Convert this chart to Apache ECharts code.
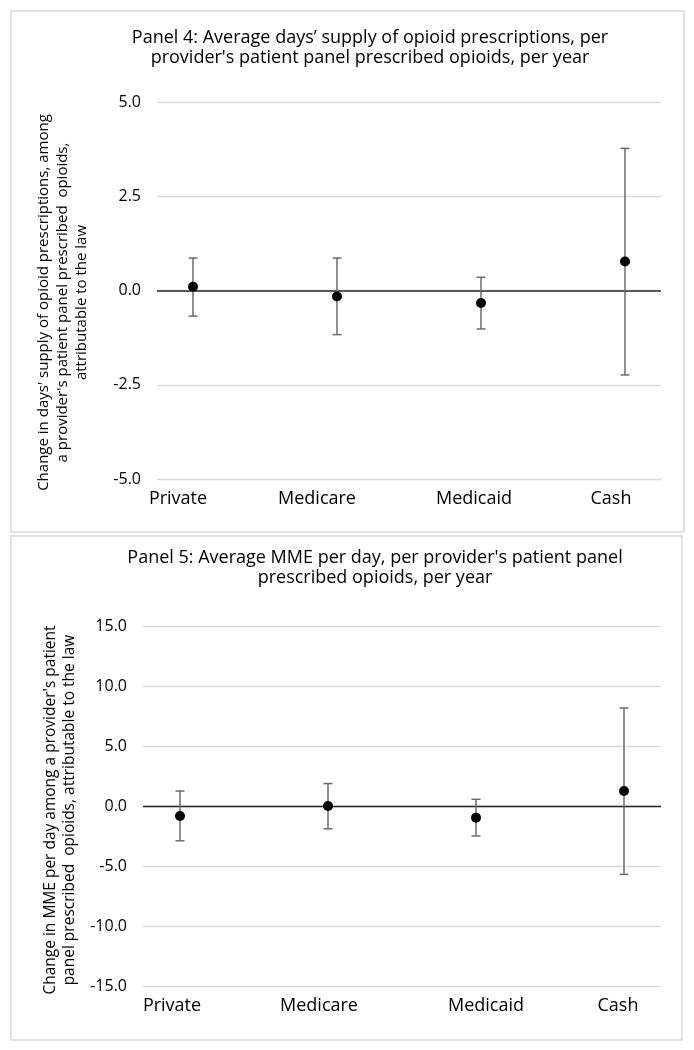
<!DOCTYPE html>
<html><head><meta charset="utf-8">
<script src="https://cdn.jsdelivr.net/npm/echarts@6/dist/echarts.min.js"></script>
<style>html,body{margin:0;padding:0;background:#fff}#c{width:694px;height:1050px}</style>
</head><body><div id="c"></div>
<script>
const categories = ['Private', 'Medicare', 'Medicaid', 'Cash'];
const xPositions = [1, 2, 3, 4];

const p4Title = 'Panel 4: Average days\u2019 supply of opioid prescriptions, per\nprovider\'s patient panel prescribed opioids, per year';
const p4YName = 'Change in days\' supply of opioid prescriptions, among\na provider\'s patient panel prescribed  opioids,\nattributable to the law';
const p4Estimate = [0.10, -0.16, -0.33, 0.77];
const p4Lower = [-0.68, -1.17, -1.02, -2.24];
const p4Upper = [0.86, 0.86, 0.35, 3.77];
const p4Ticks = [-5, -2.5, 0, 2.5, 5];

const p5Title = 'Panel 5: Average MME per day, per provider\'s patient panel\nprescribed opioids, per year';
const p5YName = 'Change in MME per day among a provider\'s patient\npanel prescribed  opioids, attributable to the law';
const p5Estimate = [-0.83, 0.00, -0.97, 1.25];
const p5Lower = [-2.90, -1.90, -2.50, -5.70];
const p5Upper = [1.25, 1.87, 0.56, 8.17];
const p5Ticks = [-15, -10, -5, 0, 5, 10, 15];

const FONT = 'Open Sans';
const TXT = '#000';

// per-label horizontal nudge (px) of the category labels, as in the reference
const p4LabelNudge = [-15, -20, -7, -14];
const p5LabelNudge = [-8, -9, 10, -6];

function errorBarItem(params, api) {
  const x = api.value(0), lo = api.value(1), hi = api.value(2);
  const a = api.coord([x, lo]), b = api.coord([x, hi]);
  const cap = 4.5;
  const style = { stroke: '#6b6b6b', lineWidth: 1.5 };
  return {
    type: 'group', children: [
      { type: 'line', shape: { x1: a[0], y1: a[1], x2: b[0], y2: b[1] }, style },
      { type: 'line', shape: { x1: a[0] - cap, y1: a[1], x2: a[0] + cap, y2: a[1] }, style },
      { type: 'line', shape: { x1: b[0] - cap, y1: b[1], x2: b[0] + cap, y2: b[1] }, style }
    ]
  };
}

function xAxisFor(gridIndex, nudge, pxPerUnit) {
  return {
    type: 'value', gridIndex, min: 0.75, max: 4.25,
    axisLine: { show: false }, axisTick: { show: false }, splitLine: { show: false },
    axisLabel: {
      customValues: xPositions.map((v, i) => v + nudge[i] / pxPerUnit),
      formatter: v => categories[Math.round(v) - 1],
      fontFamily: FONT, fontSize: 18, color: TXT, margin: 11
    }
  };
}

function yAxisFor(gridIndex, ticks, name, nameGap, namePad, nameSize) {
  return {
    type: 'value', gridIndex,
    min: ticks[0], max: ticks[ticks.length - 1], interval: ticks[1] - ticks[0],
    axisLine: { show: false }, axisTick: { show: false },
    splitLine: { lineStyle: { color: '#d9d9d9', width: 1.3 } },
    axisLabel: { formatter: v => v.toFixed(1), fontFamily: FONT, fontSize: 16, color: TXT, margin: 16 },
    name, nameLocation: 'middle', nameRotate: 90, nameGap,
    nameTextStyle: { fontFamily: FONT, fontSize: nameSize, color: TXT, lineHeight: 19, align: 'center', padding: namePad }
  };
}

function seriesFor(idx, est, lo, hi, zeroColor, zeroWidth) {
  return [
    {
      type: 'custom', xAxisIndex: idx, yAxisIndex: idx,
      renderItem: errorBarItem,
      encode: { x: 0, y: [1, 2] },
      data: xPositions.map((x, i) => [x, lo[i], hi[i]]),
      z: 3,
      markLine: {
        silent: true, symbol: 'none', label: { show: false },
        lineStyle: { color: zeroColor, width: zeroWidth, type: 'solid' },
        data: [{ yAxis: 0 }], z: 2
      }
    },
    {
      type: 'scatter', xAxisIndex: idx, yAxisIndex: idx,
      symbolSize: 10, itemStyle: { color: '#000', opacity: 1 },
      data: xPositions.map((x, i) => [x, est[i]]),
      z: 5
    }
  ];
}

const chart = echarts.init(document.getElementById('c'), null, { renderer: 'canvas' });
chart.setOption({
  backgroundColor: '#fff',
  animation: false,
  title: [
    { text: p4Title, left: 365, top: 23, textAlign: 'center',
      textStyle: { fontFamily: FONT, fontSize: 18, fontWeight: 'normal', color: TXT, lineHeight: 20, align: 'center' } },
    { text: p5Title, left: 370, top: 543, textAlign: 'center',
      textStyle: { fontFamily: FONT, fontSize: 18, fontWeight: 'normal', color: TXT, lineHeight: 20, align: 'center' } }
  ],
  graphic: [
    { type: 'rect', shape: { x: 11, y: 11, width: 673, height: 521 }, style: { fill: 'none', stroke: '#d9d9d9', lineWidth: 1.5 }, z: -1 },
    { type: 'rect', shape: { x: 11, y: 536, width: 671, height: 504 }, style: { fill: 'none', stroke: '#d9d9d9', lineWidth: 1.5 }, z: -1 }
  ],
  grid: [
    { left: 157, right: 33, top: 102, height: 377 },
    { left: 143, right: 33, top: 626, height: 360 }
  ],
  xAxis: [xAxisFor(0, p4LabelNudge, 144), xAxisFor(1, p5LabelNudge, 148)],
  yAxis: [
    yAxisFor(0, p4Ticks, p4YName, 66, [0, 24, 0, 0], 15),
    yAxisFor(1, p5Ticks, p5YName, 60, [0, 8, 0, 0], 15.5)
  ],
  series: [
    ...seriesFor(0, p4Estimate, p4Lower, p4Upper, '#595959', 2),
    ...seriesFor(1, p5Estimate, p5Lower, p5Upper, '#262626', 1.3)
  ]
});
</script>
</body></html>
